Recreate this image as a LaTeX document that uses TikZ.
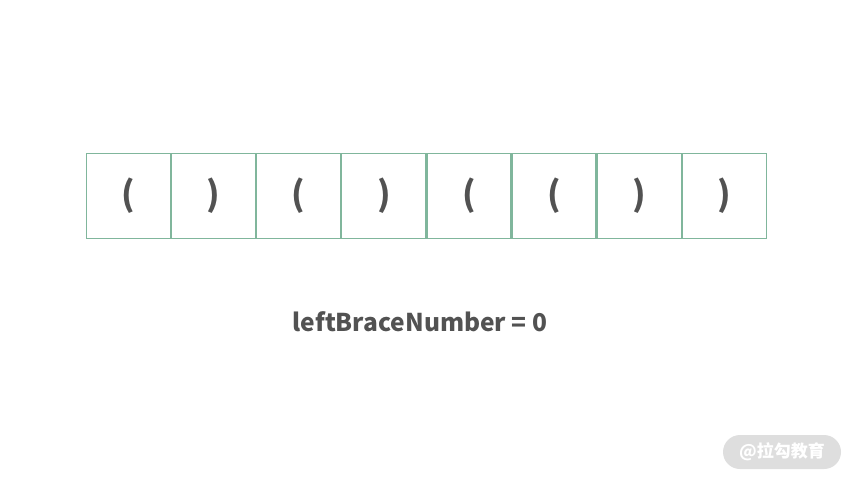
\documentclass[tikz,border=0pt]{standalone}
\usepackage{fontspec}
\newfontfamily\cjk{Noto Sans CJK SC}
\definecolor{boxgreen}{RGB}{128,182,156}
\definecolor{textgray}{RGB}{82,82,82}
\definecolor{markgray}{RGB}{222,222,222}
\tikzset{
	cell/.style={draw=boxgreen, line width=1.2pt, minimum width=84pt, minimum height=85pt, inner sep=0pt,
		text=textgray, font=\cjk\bfseries\fontsize{34}{34}\selectfont},
}

\begin{document}
\begin{tikzpicture}[x=1pt, y=-1pt]
	\useasboundingbox (0,0) rectangle (853,480);
	\foreach \c [count=\i] in {{(},{)},{(},{)},{(},{(},{)},{)}}
		\node[cell] (b\i) at ({86+85.1*(\i-1)+42.5},196) {\c};
	\node[text=textgray, font=\cjk\bfseries\fontsize{24.5}{24.5}\selectfont] (count) at (420,322) {leftBraceNumber = 0};
	\node[fill=markgray, rounded corners=17pt, minimum width=118pt, minimum height=34pt,
		text=white, font=\cjk\bfseries\fontsize{17}{17}\selectfont] (mark) at (782,452) {@拉勾教育};
\end{tikzpicture}
\end{document}
